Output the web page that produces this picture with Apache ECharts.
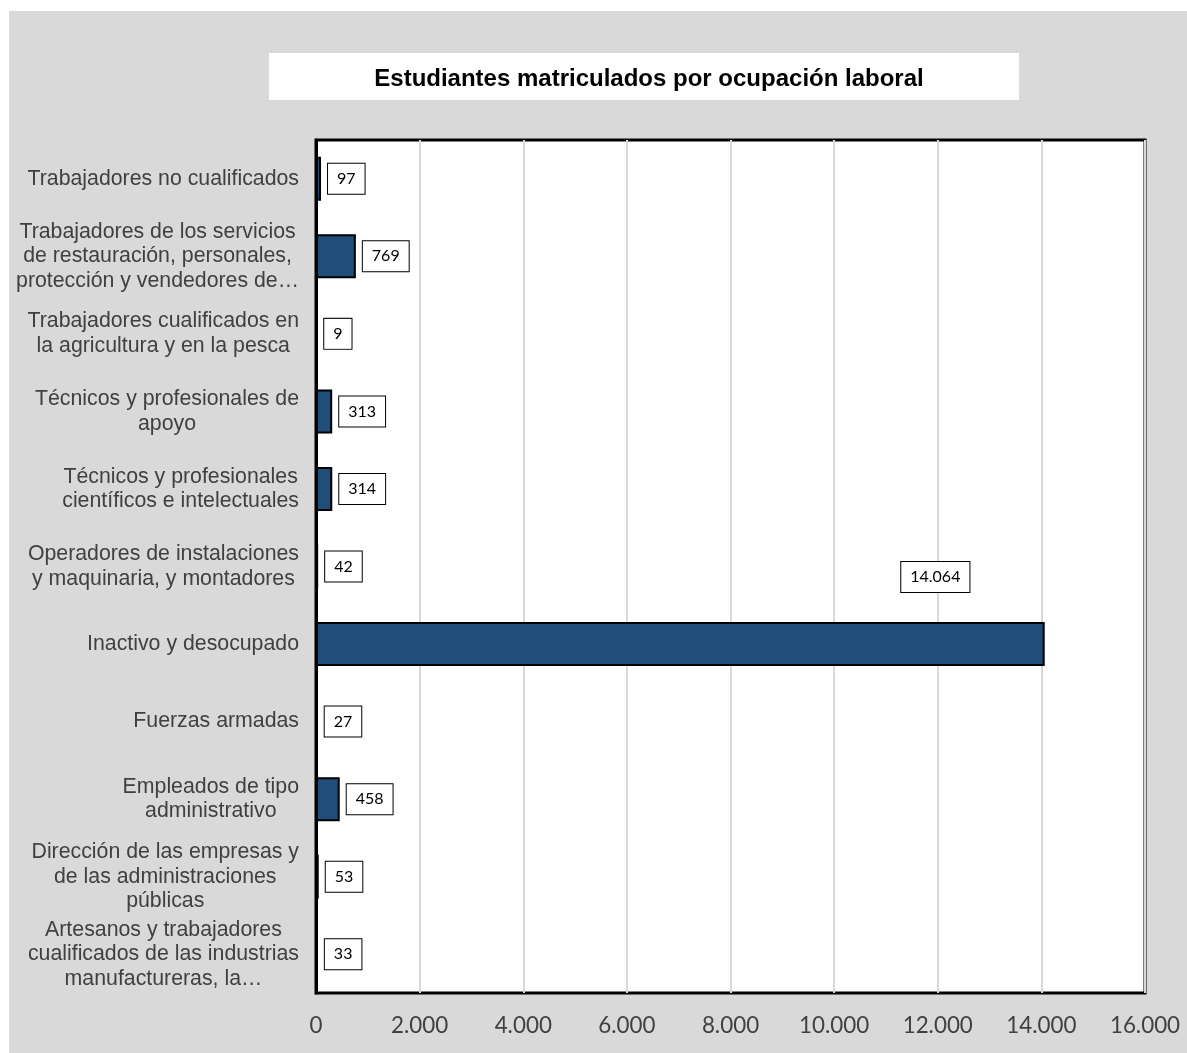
<!DOCTYPE html>
<html>
<head>
<meta charset="utf-8">
<style>
  html, body { margin: 0; padding: 0; background: #ffffff; }
  #chart { position: absolute; left: 9px; top: 11px; width: 1178px; height: 1042px; }
</style>
<script src="https://cdn.jsdelivr.net/npm/echarts@6/dist/echarts.min.js"></script>
</head>
<body>
<div id="chart"></div>
<script>
// categories, bottom to top (category axis starts at the bottom)
var categories = [
    'Artesanos y trabajadores\ncualificados de las industrias\nmanufactureras, la…',
    'Dirección de las empresas y\nde las administraciones\npúblicas',
    'Empleados de tipo\nadministrativo',
    'Fuerzas armadas',
    'Inactivo y desocupado',
    'Operadores de instalaciones\ny maquinaria, y montadores',
    'Técnicos y profesionales\ncientíficos e intelectuales',
    'Técnicos y profesionales de\napoyo',
    'Trabajadores cualificados en\nla agricultura y en la pesca',
    'Trabajadores de los servicios\nde restauración, personales,\nprotección y vendedores de…',
    'Trabajadores no cualificados'
];
var students = [33, 53, 458, 27, 14064, 42, 314, 313, 9, 769, 97];
var xTicks = [0, 2000, 4000, 6000, 8000, 10000, 12000, 14000, 16000];

function fmt(v) {
    return String(v).replace(/\B(?=(\d{3})+(?!\d))/g, '.');
}

var chart = echarts.init(document.getElementById('chart'));

var seriesData = students.map(function(v) {
    var item = { value: v };
    if (v > 10000) {
        // excel placed this label above the bar, left of its end
        item.label = { position: 'top', distance: 0, offset: [255, -30] };
    }
    return item;
});

var option = {
    backgroundColor: '#d9d9d9',
    animation: false,
    graphic: [{
        type: 'rect',
        left: 260,
        top: 42,
        shape: { width: 750, height: 47 },
        style: { fill: '#ffffff' },
        z: 0
    }],
    title: {
        text: 'Estudiantes matriculados por ocupación laboral',
        left: 635,
        top: 51,
        textAlign: 'center',
        textStyle: {
            fontFamily: 'Liberation Sans',
            fontWeight: 'bold',
            fontSize: 24,
            color: '#000000'
        }
    },
    grid: {
        left: 307,
        top: 129,
        width: 829,
        height: 853,
        show: true,
        backgroundColor: '#ffffff',
        borderColor: '#000000',
        borderWidth: 3
    },
    xAxis: {
        type: 'value',
        min: xTicks[0],
        max: xTicks[xTicks.length - 1],
        interval: 2000,
        axisLine: { show: false },
        axisTick: { show: false },
        splitLine: { show: true, lineStyle: { color: '#d9d9d9', width: 2 } },
        axisLabel: {
            margin: 22,
            fontFamily: 'Lato',
            fontSize: 22.4,
            color: '#404040',
            formatter: function(v) { return fmt(v); }
        }
    },
    yAxis: {
        type: 'category',
        data: categories,
        axisTick: { show: false },
        axisLine: { show: true, lineStyle: { color: '#000000', width: 3 } },
        axisLabel: {
            margin: 17,
            interval: 0,
            formatter: function(v) { return '{c|' + v + '}'; },
            rich: {
                c: {
                    align: 'center',
                    fontFamily: 'Liberation Sans',
                    fontSize: 21.3,
                    lineHeight: 24.5,
                    color: '#404040'
                }
            }
        }
    },
    series: [{
        type: 'bar',
        data: seriesData,
        barWidth: 44,
        itemStyle: {
            color: '#1f4e79',
            borderColor: '#000000',
            borderWidth: 2
        },
        label: {
            show: true,
            position: 'right',
            distance: 7,
            fontFamily: 'Lato',
            fontSize: 16,
            color: '#000000',
            backgroundColor: '#ffffff',
            borderColor: '#000000',
            borderWidth: 1,
            padding: [7, 9],
            formatter: function(p) { return fmt(p.value); }
        }
    }]
};

chart.setOption(option);
</script>
</body>
</html>
